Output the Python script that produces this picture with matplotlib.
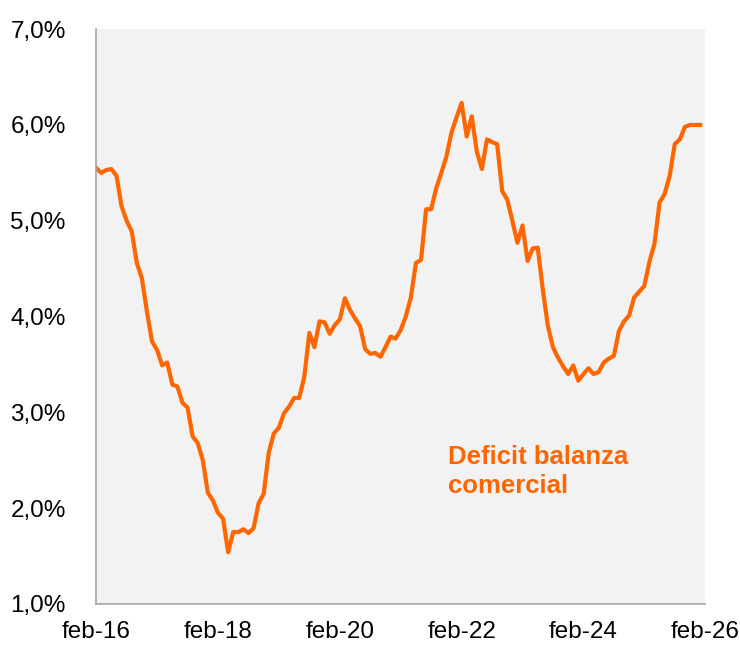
import numpy as np
import matplotlib
matplotlib.use("Agg")
import matplotlib.pyplot as plt
from matplotlib.ticker import FuncFormatter

# deficit balanza comercial, % (monthly, feb-16 onwards)
deficit = [
    5.55, 5.50, 5.53, 5.54, 5.47, 5.15, 5.00, 4.89, 4.56, 4.40,
    4.05, 3.74, 3.65, 3.49, 3.52, 3.29, 3.27, 3.10, 3.05, 2.75,
    2.68, 2.50, 2.16, 2.08, 1.95, 1.89, 1.54, 1.75, 1.75, 1.78,
    1.74, 1.79, 2.05, 2.15, 2.58, 2.78, 2.84, 2.99, 3.06, 3.15,
    3.15, 3.37, 3.83, 3.68, 3.95, 3.94, 3.82, 3.91, 3.97, 4.19,
    4.07, 3.98, 3.90, 3.66, 3.61, 3.62, 3.58, 3.68, 3.79, 3.77,
    3.86, 4.00, 4.20, 4.56, 4.59, 5.12, 5.12, 5.34, 5.50, 5.67,
    5.92, 6.08, 6.23, 5.88, 6.09, 5.72, 5.54, 5.85, 5.82, 5.80,
    5.31, 5.22, 5.00, 4.77, 4.95, 4.58, 4.71, 4.72, 4.28, 3.90,
    3.68, 3.57, 3.48, 3.40, 3.49, 3.33, 3.40, 3.46, 3.40, 3.42,
    3.52, 3.56, 3.59, 3.85, 3.95, 4.01, 4.20, 4.26, 4.32, 4.57,
    4.76, 5.19, 5.28, 5.47, 5.80, 5.85, 5.98, 6.00, 6.00, 6.00,
]
tick_pos = [0, 24, 48, 72, 96, 120]
tick_labels = ['feb-16', 'feb-18', 'feb-20', 'feb-22', 'feb-24', 'feb-26']
y_ticks = [1, 2, 3, 4, 5, 6, 7]

orange = '#ff6600'
plt.rcParams['font.family'] = ['Liberation Sans', 'DejaVu Sans']

fig = plt.figure(figsize=(7.4, 6.48), dpi=100)
ax = fig.add_axes([0.130, 0.068, 0.823, 0.887])
ax.set_facecolor('#f2f2f2')

months = np.arange(len(deficit))
ax.plot(months, deficit, color=orange, lw=3.0, solid_joinstyle='round')

ax.set_xlim(0, 120)
ax.set_ylim(1, 7)
ax.set_xticks(tick_pos)
ax.set_xticklabels(tick_labels)
ax.set_yticks(y_ticks)
ax.yaxis.set_major_formatter(FuncFormatter(lambda v, p: ('%.1f%%' % v).replace('.', ',')))
ax.tick_params(length=0, labelsize=17.5, colors='black')
ax.tick_params(axis='x', pad=12)
ax.tick_params(axis='y', pad=22)

for s in ['top', 'right']:
    ax.spines[s].set_visible(False)
for s in ['left', 'bottom']:
    ax.spines[s].set_color('#a6a6a6')
    ax.spines[s].set_linewidth(1.2)

ax.text(0.577, 0.277, 'Deficit balanza\ncomercial', transform=ax.transAxes,
        color=orange, fontsize=18.5, fontweight='bold', va='top', ha='left',
        linespacing=1.3)

fig.savefig('out.png', dpi=100)
